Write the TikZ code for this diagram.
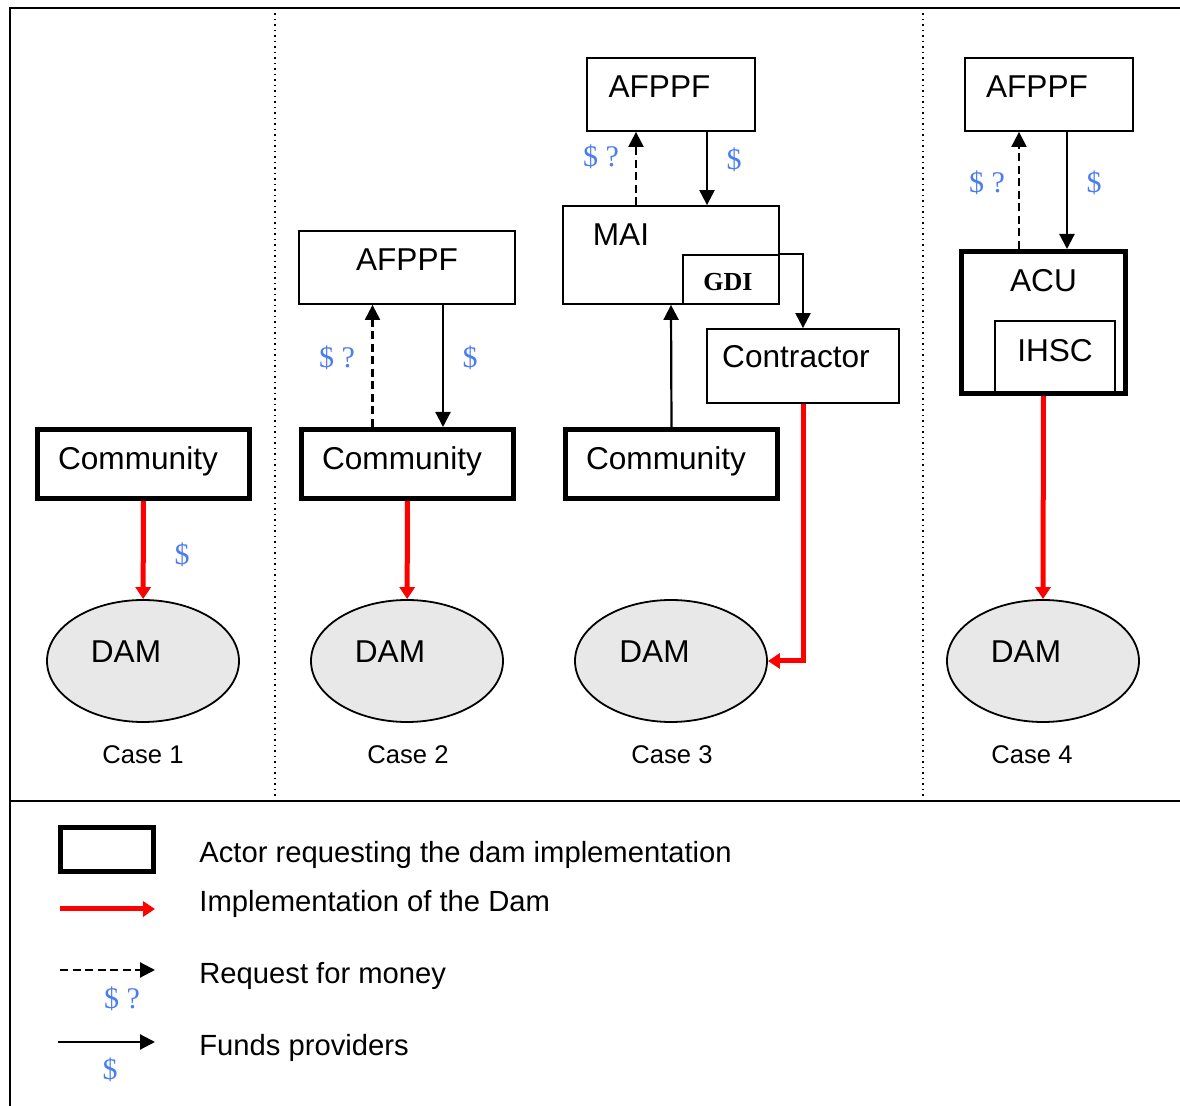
\documentclass[tikz,border=0pt]{standalone}
\usepackage{fontspec}
\setmainfont{Liberation Sans}
\newfontfamily\moneyfont{Liberation Serif}
\usepackage{tikz}
\usetikzlibrary{arrows.meta, shapes.geometric}
\definecolor{moneyblue}{RGB}{74,124,242}
\definecolor{damgrey}{RGB}{232,232,232}
\newcommand{\boxfont}{\fontsize{15.8}{18}\selectfont}
\tikzstyle{entity} = [rectangle, draw=black, line width=0.9pt, inner sep=0pt]
\tikzstyle{actor} = [rectangle, draw=black, line width=2.5pt, inner sep=0pt]
\tikzstyle{dam} = [ellipse, draw=black, line width=0.9pt, fill=damgrey, minimum width=96pt, minimum height=61pt, inner sep=0pt]
\tikzstyle{money} = [text=moneyblue, font=\moneyfont\fontsize{15}{17}\selectfont]
\tikzstyle{fund} = [line width=1.1pt, -{Triangle[length=7.5pt,width=7.5pt]}]
\tikzstyle{request} = [line width=1.1pt, dash pattern=on 4pt off 2.25pt, -{Triangle[length=7.5pt,width=7.5pt]}]
\tikzstyle{build} = [line width=2.5pt, red, -{Triangle[length=6pt,width=7.5pt]}]
\tikzstyle{case} = [font=\fontsize{12.8}{15}\selectfont]
\tikzstyle{legend} = [anchor=west, inner sep=0pt, font=\fontsize{14.6}{17}\selectfont]

\begin{document}
\begin{tikzpicture}[x=0.5pt, y=-0.5pt, font=\boxfont]

\useasboundingbox (0,0) rectangle (1180,1106);
\clip (0,0) rectangle (1180,1106);

\draw [line width=1.1pt] (1200,8) -- (10,8) -- (10,1120);
\draw [line width=0.9pt] (10,801) -- (1200,801);
\draw [dotted, line width=0.75pt] (275,8) -- (275,801);
\draw [dotted, line width=0.75pt] (923,8) -- (923,801);

\node (communityA) [actor, minimum width=106pt, minimum height=34.5pt, label={[xshift=-2.75pt,yshift=1.5pt]center:Community}] at (143.5,464) {};
\node (damA) [dam, label={[xshift=-8.5pt,yshift=4.5pt]center:DAM}] at (143,661) {};
\node (caseA) [case] at (143,755) {Case 1};
\node (moneyA) [money] at (182,555) {\$};

\node (afppfB) [entity, minimum width=108pt, minimum height=36.5pt, label={[yshift=3.75pt]center:AFPPF}] at (407,267.5) {};
\node (communityB) [actor, minimum width=106pt, minimum height=34.5pt, label={[xshift=-2.75pt,yshift=1.5pt]center:Community}] at (407.5,464) {};
\node (damB) [dam, label={[xshift=-8.5pt,yshift=4.5pt]center:DAM}] at (407,661) {};
\node (caseB) [case] at (408,755) {Case 2};
\node (askB) [money] at (337,358) {\$ ?};
\node (moneyB) [money] at (470,358) {\$};

\node (afppfC) [entity, minimum width=84pt, minimum height=36.5pt, label={[xshift=-5.75pt,yshift=3.75pt]center:AFPPF}] at (671,94.5) {};
\node (maiC) [entity, minimum width=108pt, minimum height=49pt, label={[xshift=-25pt,yshift=10pt]center:MAI}] at (671,255) {};
\node (gdiC) [entity, minimum width=48pt, minimum height=24.5pt, label={[xshift=-1.5pt,yshift=-1.5pt,font=\moneyfont\bfseries\fontsize{13}{15}\selectfont]center:GDI}] at (731,279.5) {};
\node (contractorC) [entity, minimum width=96pt, minimum height=37pt, label={[xshift=-3.5pt,yshift=4.5pt]center:Contractor}] at (803,366) {};
\node (communityC) [actor, minimum width=106pt, minimum height=34.5pt, label={[xshift=-2.75pt,yshift=1.5pt]center:Community}] at (671.5,464) {};
\node (damC) [dam, label={[xshift=-8.25pt,yshift=4.5pt]center:DAM}] at (671,661) {};
\node (caseC) [case] at (672,755) {Case 3};
\node (askC) [money] at (601,157) {\$ ?};
\node (moneyC) [money] at (734,160) {\$};

\node (afppfD) [entity, minimum width=84pt, minimum height=36.5pt, label={[xshift=-6pt,yshift=3.75pt]center:AFPPF}] at (1049,94.5) {};
\node (acuD) [actor, minimum width=82pt, minimum height=71pt, label={[yshift=20.75pt]center:ACU}] at (1043.5,322.5) {};
\node (ihscD) [entity, minimum width=60pt, minimum height=36.5pt, label={[yshift=3.25pt]center:IHSC}] at (1055,357.5) {};
\node (damD) [dam, label={[xshift=-8.5pt,yshift=4.5pt]center:DAM}] at (1043,661) {};
\node (caseD) [case] at (1032,755) {Case 4};
\node (askD) [money] at (987,183) {\$ ?};
\node (moneyD) [money] at (1094,183) {\$};

\draw [build] (communityA) -- (damA);
\draw [build] (communityB) -- (damB);
\draw [build] (contractorC.south) |- (damC.east);
\draw [build] (acuD.south) -- (damD.north);

\draw [request] ([xshift=-17.5pt]communityB.north) -- ([xshift=-17.5pt]communityB.north |- afppfB.south);
\draw [fund] ([xshift=18pt]afppfB.south) -- ([xshift=18pt]afppfB.south |- communityB.north);
\draw [request] ([xshift=-17.5pt]afppfC.south |- maiC.north) -- ([xshift=-17.5pt]afppfC.south);
\draw [fund] ([xshift=18pt]afppfC.south) -- ([xshift=18pt]afppfC.south |- maiC.north);
\draw [fund] (communityC.north) -- (maiC.south);
\draw [fund] (gdiC.north east) -| (contractorC.north);
\draw [request] ([xshift=-15pt]afppfD.south |- acuD.north) -- ([xshift=-15pt]afppfD.south);
\draw [fund] ([xshift=9pt]afppfD.south) -- ([xshift=9pt]afppfD.south |- acuD.north);

\node (actorKey) [actor, minimum width=46.5pt, minimum height=22pt] at (107,849.5) {};
\node (actorText) [legend] at (199,855) {Actor requesting the dam implementation};
\coordinate (buildStart) at (60,909);
\coordinate (buildEnd) at (155,909);
\draw [build] (buildStart) -- (buildEnd);
\node (buildText) [legend] at (199,904) {Implementation of the Dam};
\coordinate (requestStart) at (60,970);
\coordinate (requestEnd) at (155,970);
\draw [request] (requestStart) -- (requestEnd);
\node (askKey) [money] at (122,999) {\$ ?};
\node (requestText) [legend] at (199,976) {Request for money};
\coordinate (fundStart) at (58,1042);
\coordinate (fundEnd) at (155,1042);
\draw [fund] (fundStart) -- (fundEnd);
\node (moneyKey) [money] at (110,1070) {\$};
\node (fundText) [legend] at (199,1048) {Funds providers};

\end{tikzpicture}
\end{document}
